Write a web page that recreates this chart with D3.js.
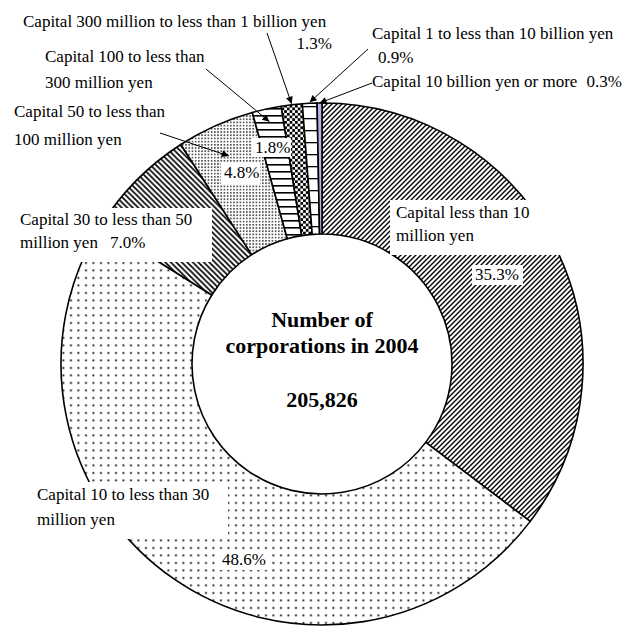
<!DOCTYPE html>
<html>
<head>
<meta charset="utf-8">
<script src="https://cdn.jsdelivr.net/npm/d3@7"></script>
<style>
  html, body { margin: 0; padding: 0; background: #fff; }
  text { font-family: "Liberation Serif", "Times New Roman", serif; }
</style>
</head>
<body>
<svg id="chart" width="626" height="626"></svg>
<script>
// Share of corporations by capital size (percent), clockwise from 12 o'clock
const categories = [
  "Capital less than 10 million yen",
  "Capital 10 to less than 30 million yen",
  "Capital 30 to less than 50 million yen",
  "Capital 50 to less than 100 million yen",
  "Capital 100 to less than 300 million yen",
  "Capital 300 million to less than 1 billion yen",
  "Capital 1 to less than 10 billion yen",
  "Capital 10 billion yen or more"
];
const shares = [35.3, 48.6, 7.0, 4.8, 1.8, 1.3, 0.9, 0.3];
const totalCorporations = 205826;
const centerTitle = ["Number of", "corporations in 2004"];

// Category names as they are broken over lines
const labelLines = [
  ["Capital less than 10", "million yen"],
  ["Capital 10 to less than 30", "million yen"],
  ["Capital 30 to less than 50", "million yen"],
  ["Capital 50 to less than", "100 million yen"],
  ["Capital 100 to less than", "300 million yen"],
  ["Capital 300 million to less than 1 billion yen"],
  ["Capital 1 to less than 10 billion yen"],
  ["Capital 10 billion yen or more"]
];

// ---- layout ----
const W = 626, H = 626;
const cx = 322, cy = 364, rOuter = 261, rInner = 130;
const fontSize = 17;
const fmtPct = v => d3.format(".1f")(v) + "%";

// Where each label sits; pct = percentage text, box = white backing rect,
// arrow = leader from a point to the slice at the given radius
const labelLayout = [
  { x: 396, y: 218, lh: 23, box: [390, 200, 190, 55],
    pct: { x: 475, y: 280, anchor: "start", box: [472, 265, 51, 20] } },
  { x: 37, y: 500, lh: 25, box: [30, 482, 198, 57],
    pct: { x: 222, y: 565, anchor: "start", box: [219, 551, 51, 19] } },
  { x: 20, y: 225, lh: 23, box: [17, 208, 195, 54],
    pct: { x: 110, y: 248, anchor: "start" } },
  { x: 14, y: 117, lh: 28,
    pct: { x: 224, y: 178, anchor: "start", box: [221, 163, 39, 21] },
    arrow: { from: [160, 133], r: 228 } },
  { x: 45, y: 62, lh: 26,
    pct: { x: 255, y: 153, anchor: "start", box: [252, 138, 39, 19] },
    arrow: { from: [206, 69], r: 248 } },
  { x: 23, y: 27, lh: 22,
    pct: { x: 332, y: 49, anchor: "end" },
    arrow: { from: [267, 33], r: 262 } },
  { x: 372, y: 39, lh: 24,
    pct: { x: 378, y: 63, anchor: "start" },
    arrow: { from: [368, 49], r: 262 } },
  { x: 372, y: 87, lh: 24,
    pct: { x: 622, y: 87, anchor: "end" },
    arrow: { from: [372, 83], r: 261 } }
];

const svg = d3.select("#chart");
svg.append("rect").attr("width", W).attr("height", H).attr("fill", "#fff");

// ---- fill patterns ----
const defs = svg.append("defs");
function makePattern(id, w, h, draw) {
  const p = defs.append("pattern")
    .attr("id", id).attr("patternUnits", "userSpaceOnUse")
    .attr("width", w).attr("height", h);
  p.append("rect").attr("width", w).attr("height", h).attr("fill", "#fff");
  draw(p, w, h);
  return `url(#${id})`;
}
const fills = [
  // wide upward diagonal
  makePattern("p-up", 5, 5, (p, w) => p.append("path")
    .attr("d", `M0,${w} L${w},0 M-1,1 L1,-1 M${w - 1},${w + 1} L${w + 1},${w - 1}`)
    .attr("stroke", "#000").attr("stroke-width", 1.4)),
  // sparse dots
  makePattern("p-dots", 7.5, 7.5, p => p.append("rect")
    .attr("x", 3).attr("y", 3).attr("width", 1.9).attr("height", 1.9).attr("fill", "#222")),
  // wide downward diagonal
  makePattern("p-down", 5.5, 5.5, (p, w) => p.append("path")
    .attr("d", `M0,0 L${w},${w} M-1,${w - 1} L1,${w + 1} M${w - 1},-1 L${w + 1},1`)
    .attr("stroke", "#000").attr("stroke-width", 1.7)),
  // fine dots
  makePattern("p-fine", 3.2, 3.2, p => p.append("rect")
    .attr("x", 0.8).attr("y", 0.8).attr("width", 1.7).attr("height", 1.7).attr("fill", "#555")),
  // horizontal lines
  makePattern("p-horiz", 10, 7, p => p.append("rect")
    .attr("x", 0).attr("y", 3).attr("width", 10).attr("height", 1.6).attr("fill", "#000")),
  // checkerboard
  makePattern("p-check", 5.4, 5.4, p => {
    p.append("rect").attr("x", 0).attr("y", 0).attr("width", 2.7).attr("height", 2.7).attr("fill", "#000");
    p.append("rect").attr("x", 2.7).attr("y", 2.7).attr("width", 2.7).attr("height", 2.7).attr("fill", "#000");
  }),
  // sparse horizontal lines
  makePattern("p-horiz-wide", 10, 12, p => p.append("rect")
    .attr("x", 0).attr("y", 6).attr("width", 10).attr("height", 1.3).attr("fill", "#000")),
  // solid lavender
  "#b3b6ee"
];

// ---- donut ----
const pie = d3.pie().sort(null).startAngle(0).endAngle(2 * Math.PI).value(d => d);
const arcs = pie(shares);
const arc = d3.arc().innerRadius(rInner).outerRadius(rOuter);

const g = svg.append("g").attr("transform", `translate(${cx},${cy})`);
g.selectAll("path.slice")
  .data(arcs)
  .join("path")
  .attr("class", "slice")
  .attr("d", arc)
  .attr("fill", (d, i) => fills[i])
  .attr("stroke", "#000")
  .attr("stroke-width", 1.6)
  .attr("stroke-linejoin", "round");

// ---- leaders ----
defs.append("marker")
  .attr("id", "arrowhead")
  .attr("viewBox", "0 0 10 10")
  .attr("refX", 10).attr("refY", 5)
  .attr("markerWidth", 8).attr("markerHeight", 7)
  .attr("markerUnits", "userSpaceOnUse")
  .attr("orient", "auto")
  .append("path").attr("d", "M0,0 L10,5 L0,10 Z").attr("fill", "#000");

function arcPoint(a, r) {
  const mid = (a.startAngle + a.endAngle) / 2;
  return [cx + r * Math.sin(mid), cy - r * Math.cos(mid)];
}

const labels = svg.append("g");
labelLayout.forEach((L, i) => {
  if (L.box) {
    labels.append("rect").attr("x", L.box[0]).attr("y", L.box[1])
      .attr("width", L.box[2]).attr("height", L.box[3]).attr("fill", "#fff");
  }
  if (L.pct && L.pct.box) {
    const b = L.pct.box;
    labels.append("rect").attr("x", b[0]).attr("y", b[1])
      .attr("width", b[2]).attr("height", b[3]).attr("fill", "#fff");
  }
  if (L.arrow) {
    const [tx, ty] = arcPoint(arcs[i], L.arrow.r);
    labels.append("line")
      .attr("x1", L.arrow.from[0]).attr("y1", L.arrow.from[1])
      .attr("x2", tx).attr("y2", ty)
      .attr("stroke", "#000").attr("stroke-width", 1)
      .attr("marker-end", "url(#arrowhead)");
  }
  labelLines[i].forEach((line, k) => {
    labels.append("text")
      .attr("x", L.x).attr("y", L.y + k * L.lh)
      .attr("font-size", fontSize).attr("fill", "#000")
      .text(line);
  });
  labels.append("text")
    .attr("x", L.pct.x).attr("y", L.pct.y)
    .attr("text-anchor", L.pct.anchor)
    .attr("font-size", fontSize).attr("fill", "#000")
    .text(fmtPct(shares[i]));
});

// ---- centre caption ----
const center = svg.append("g").attr("font-weight", "bold").attr("text-anchor", "middle");
centerTitle.forEach((t, k) => {
  center.append("text").attr("x", cx).attr("y", 327 + k * 26)
    .attr("font-size", 22).text(t);
});
center.append("text").attr("x", cx).attr("y", 407)
  .attr("font-size", 22).text(d3.format(",")(totalCorporations));
</script>
</body>
</html>
